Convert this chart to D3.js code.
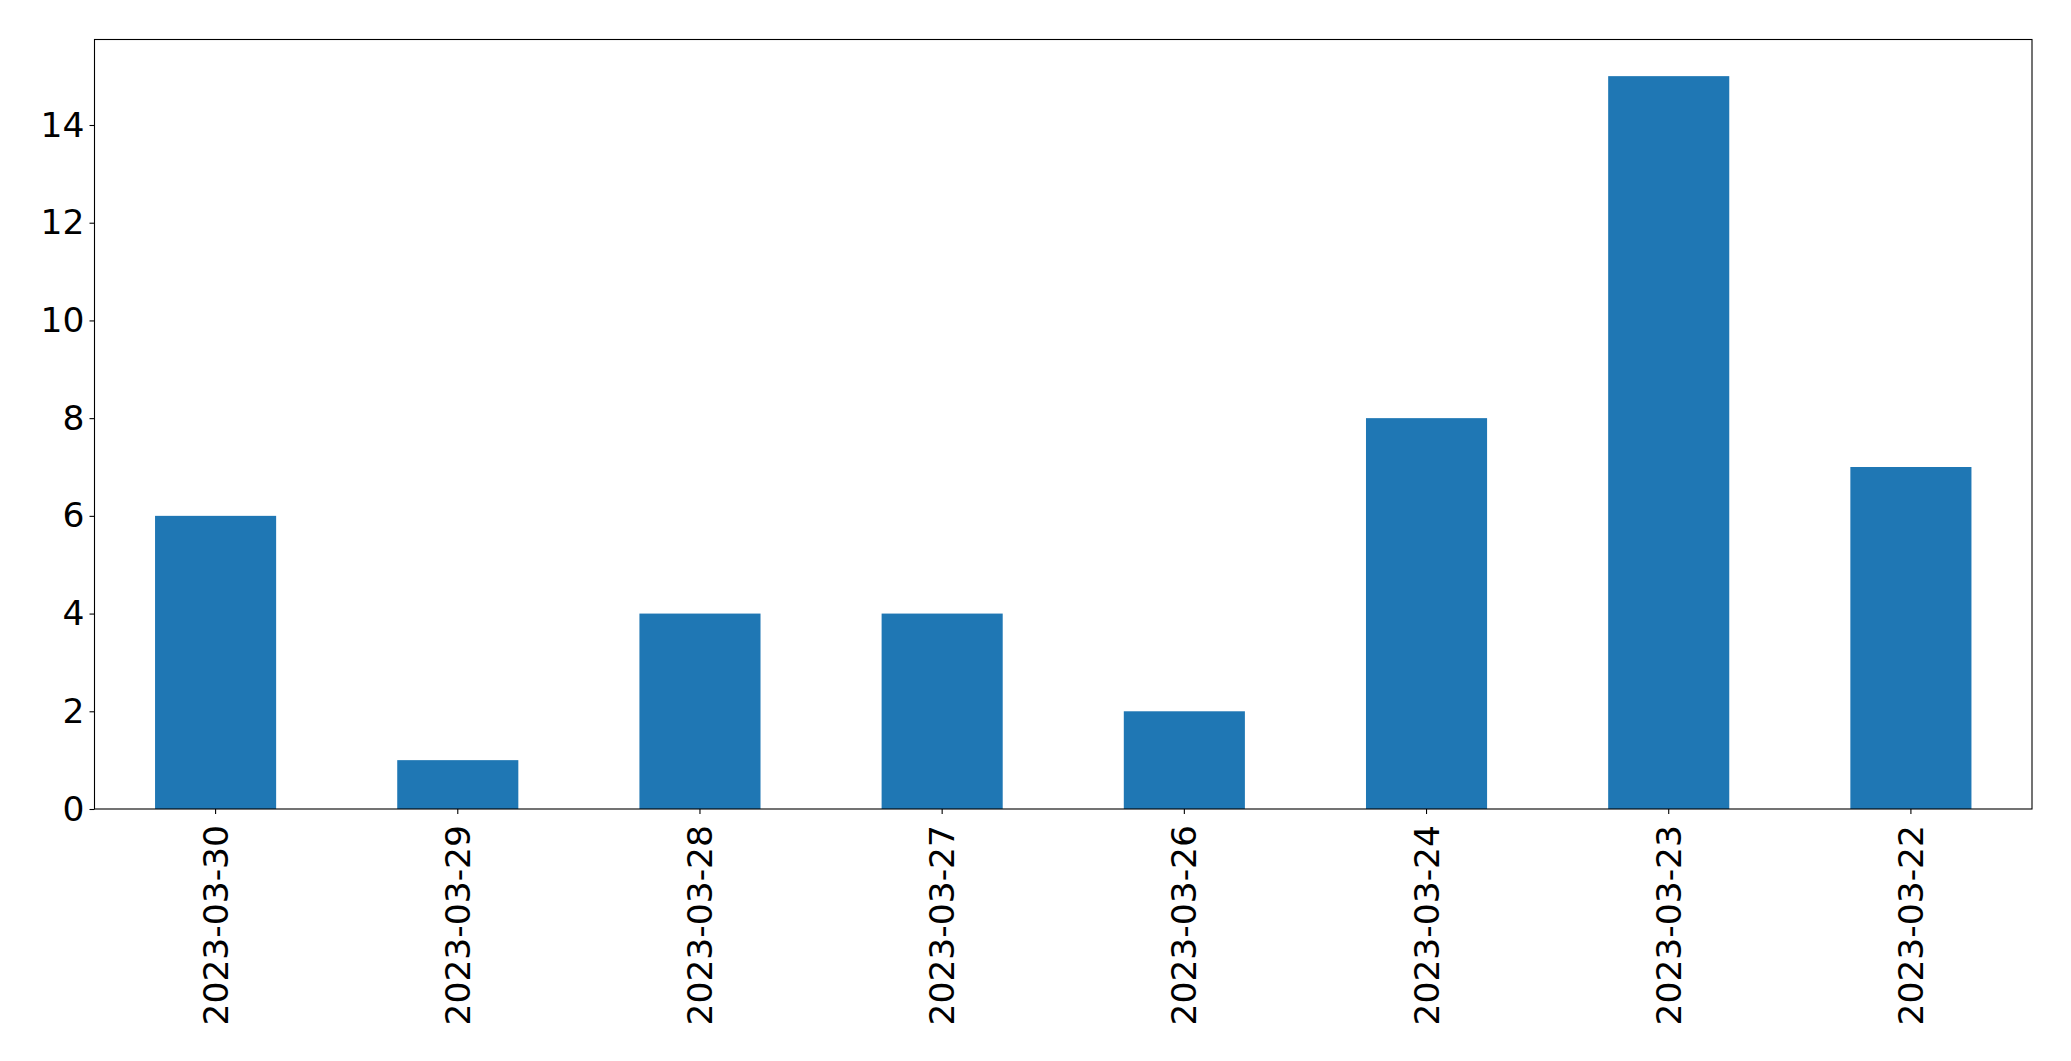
<!DOCTYPE html>
<html><head><meta charset="utf-8">
<script src="https://cdn.jsdelivr.net/npm/d3@7"></script>
<style>body{margin:0;background:#fff}svg{display:block}text{font-family:"DejaVu Sans",sans-serif}</style>
</head><body>
<svg id="c" width="2071" height="1061"></svg>
<script>
const categories = ["2023-03-30","2023-03-29","2023-03-28","2023-03-27","2023-03-26","2023-03-24","2023-03-23","2023-03-22"];
const values = [6,1,4,4,2,8,15,7];
const yTicks = [0,2,4,6,8,10,12,14];

const svg = d3.select("#c");
const L = 94.5, R = 2032, T = 39.5, B = 809;
const fs = 34.5;
const x = d3.scaleBand().domain(categories).range([L, R]).paddingInner(0.5).paddingOuter(0.25);
const y = d3.scaleLinear().domain([0, d3.max(values) * 1.05]).range([B, T]);

svg.append("g").selectAll("rect").data(values).join("rect")
  .attr("x", (d, i) => x(categories[i]))
  .attr("width", x.bandwidth())
  .attr("y", d => y(d))
  .attr("height", d => B - y(d))
  .attr("fill", "#1f77b4");

const gy = svg.append("g").attr("transform", `translate(${L},0)`)
  .call(d3.axisLeft(y).tickValues(yTicks).tickSize(5).tickPadding(5).tickFormat(d3.format("d")));
gy.select(".domain").remove();
gy.selectAll("text").attr("font-size", fs).attr("font-family", "DejaVu Sans").attr("fill", "#000");
gy.selectAll("line").attr("stroke", "#000").attr("stroke-width", 1.1);

const gx = svg.append("g").attr("transform", `translate(0,${B})`)
  .call(d3.axisBottom(x).tickSize(5).tickPadding(0));
gx.select(".domain").remove();
gx.selectAll("line").attr("stroke", "#000").attr("stroke-width", 1.1);
gx.selectAll("text")
  .attr("font-size", fs).attr("font-family", "DejaVu Sans").attr("fill", "#000")
  .attr("text-anchor", "end")
  .attr("transform", "rotate(-90)")
  .attr("x", -16).attr("y", 0).attr("dy", "0.35em");

svg.append("rect").attr("x", L).attr("y", T).attr("width", R - L).attr("height", B - T)
  .attr("fill", "none").attr("stroke", "#000").attr("stroke-width", 1.1);
</script>
</body></html>
